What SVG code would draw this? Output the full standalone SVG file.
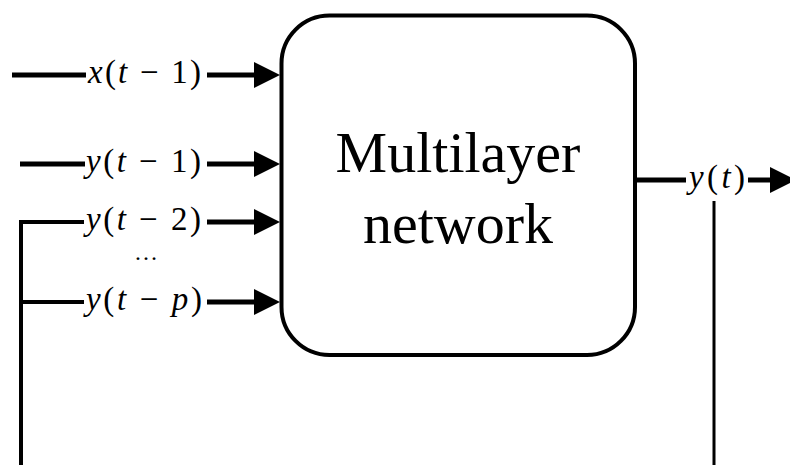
<svg xmlns="http://www.w3.org/2000/svg" width="790" height="465" viewBox="0 0 790 465">
<style>
.ln{stroke:#000;stroke-width:5;fill:none}
.thin{stroke:#000;stroke-width:3;fill:none}
.box{stroke:#000;stroke-width:4;fill:#fff}
.m{font-size:33px;fill:#000}
.i{font-style:italic}
.big{font-size:58px;fill:#000;text-anchor:middle}
</style>
<defs>
<marker id="ah" markerUnits="userSpaceOnUse" markerWidth="26" markerHeight="26" refX="0" refY="13" orient="auto" overflow="visible">
<path d="M0,0 L26,13 L0,26 Z" fill="#000"/>
</marker>
</defs>
<g id="connectors">
<line class="ln" x1="12" y1="75" x2="86" y2="75"/>
<line class="ln" x1="207" y1="75" x2="254" y2="75" marker-end="url(#ah)"/>
<line class="ln" x1="20" y1="164" x2="85" y2="164"/>
<line class="ln" x1="207" y1="164" x2="254" y2="164" marker-end="url(#ah)"/>
<polyline class="ln" points="21,465 21,222 84,222" style="stroke-width:4"/>
<line class="ln" x1="207" y1="222" x2="254" y2="222" marker-end="url(#ah)"/>
<line class="ln" x1="21" y1="302" x2="84" y2="302" style="stroke-width:4"/>
<line class="ln" x1="207" y1="302" x2="254" y2="302" marker-end="url(#ah)"/>
<line class="ln" x1="636" y1="180" x2="686" y2="180"/>
<line class="ln" x1="748" y1="180" x2="770" y2="180" marker-end="url(#ah)"/>
<line class="thin" x1="714" y1="201" x2="714" y2="465"/>
</g>
<g font-family="Liberation Serif, Times New Roman, serif">
<g id="node-network">
<rect class="box" x="281.5" y="15.5" width="353.5" height="339.5" rx="48" ry="48"/>
<text class="big" x="458" y="172">Multilayer</text>
<text class="big" x="458" y="243">network</text>
</g>
<g id="label-x1">
<text class="m" x="88" y="83" textLength="113" lengthAdjust="spacing"><tspan class="i">x</tspan>(<tspan class="i">t</tspan> − 1)</text>
</g>
<g id="label-y1">
<text class="m" x="86" y="172" textLength="115" lengthAdjust="spacing"><tspan class="i">y</tspan>(<tspan class="i">t</tspan> − 1)</text>
</g>
<g id="label-y2">
<text class="m" x="86" y="230" textLength="115" lengthAdjust="spacing"><tspan class="i">y</tspan>(<tspan class="i">t</tspan> − 2)</text>
</g>
<g id="label-dots">
<text class="m" x="146" y="260" font-size="24" text-anchor="middle" style="font-size:24px">…</text>
</g>
<g id="label-yp">
<text class="m" x="86" y="310" textLength="116" lengthAdjust="spacing"><tspan class="i">y</tspan>(<tspan class="i">t</tspan> − <tspan class="i">p</tspan>)</text>
</g>
<g id="label-yt">
<text class="m" x="689" y="188" textLength="56" lengthAdjust="spacing"><tspan class="i">y</tspan>(<tspan class="i">t</tspan>)</text>
</g>
</g>
</svg>
